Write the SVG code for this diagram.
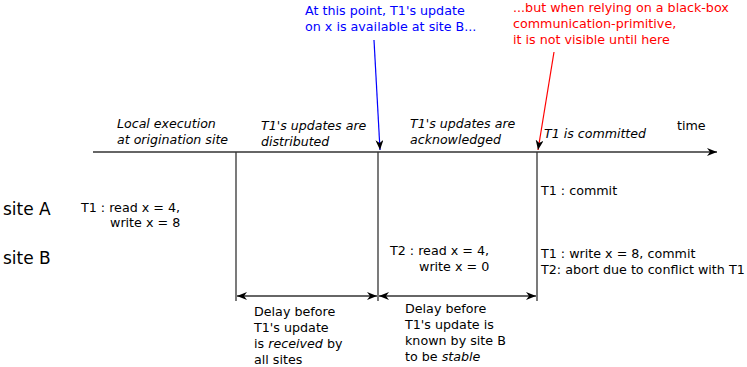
<svg xmlns="http://www.w3.org/2000/svg" width="747" height="367" viewBox="0 0 747 367">
<style>
text{font-family:"DejaVu Sans",sans-serif;font-size:12.7px;fill:#000}
.it{font-style:italic;font-size:12.6px}
.site{font-size:17px}
.blue{fill:#0000ff}
.red{fill:#ff0000}
.ln{stroke:#333;stroke-width:1.3;fill:none}
</style>
<defs>
<marker id="ah" viewBox="0 0 10 8" refX="10" refY="4" markerWidth="10" markerHeight="8" markerUnits="userSpaceOnUse" orient="auto-start-reverse"><path d="M0,0 L10,4 L0,8 L3,4 z" fill="#000"/></marker>
<marker id="ahb" viewBox="0 0 10 8" refX="10" refY="4" markerWidth="10" markerHeight="8" markerUnits="userSpaceOnUse" orient="auto"><path d="M0,0 L10,4 L0,8 L3,4 z" fill="#000"/></marker>
</defs>
<g id="connectors">
<line class="ln" x1="93" y1="152" x2="717" y2="152" marker-end="url(#ah)"/>
<line class="ln" x1="236" y1="152" x2="236" y2="301"/>
<line class="ln" x1="378" y1="152" x2="378" y2="301"/>
<line class="ln" x1="537" y1="152" x2="537" y2="301"/>
<line class="ln" x1="237" y1="296" x2="377" y2="296" marker-start="url(#ah)" marker-end="url(#ah)"/>
<line class="ln" x1="379" y1="296" x2="536" y2="296" marker-start="url(#ah)" marker-end="url(#ah)"/>
<line x1="374" y1="40" x2="380" y2="150" stroke="#0000ff" stroke-width="1.2" marker-end="url(#ahb)"/>
<line x1="554" y1="52" x2="538" y2="150" stroke="#ff0000" stroke-width="1.2" marker-end="url(#ahb)"/>
</g>
<g id="phase-labels">
<text class="it" x="117" y="128">Local execution</text>
<text class="it" x="117" y="144">at origination site</text>
<text class="it" x="261" y="130">T1's updates are</text>
<text class="it" x="261" y="146">distributed</text>
<text class="it" x="410" y="128">T1's updates are</text>
<text class="it" x="410" y="144">acknowledged</text>
<text class="it" x="544" y="138">T1 is committed</text>
<text x="677" y="130">time</text>
</g>
<g id="note-blue">
<text class="blue" x="305" y="15">At this point, T1's update</text>
<text class="blue" x="305" y="31">on x is available at site B...</text>
</g>
<g id="note-red">
<text class="red" x="513" y="12">...but when relying on a black-box</text>
<text class="red" x="513" y="28">communication-primitive,</text>
<text class="red" x="513" y="44">it is not visible until here</text>
</g>
<g id="siteA">
<text class="site" x="3" y="215">site A</text>
<text x="81" y="212">T1 : read x = 4,</text>
<text x="110" y="227">write x = 8</text>
<text x="541" y="195">T1 : commit</text>
</g>
<g id="siteB">
<text class="site" x="3" y="264">site B</text>
<text x="390" y="255">T2 : read x = 4,</text>
<text x="419" y="271">write x = 0</text>
<text x="541" y="258">T1 : write x = 8, commit</text>
<text x="541" y="274">T2: abort due to conflict with T1</text>
</g>
<g id="delay1">
<text x="254" y="316">Delay before</text>
<text x="254" y="332">T1's update</text>
<text x="254" y="348">is <tspan font-style="italic">received</tspan> by</text>
<text x="254" y="364">all sites</text>
</g>
<g id="delay2">
<text x="405" y="313">Delay before</text>
<text x="405" y="329">T1's update is</text>
<text x="405" y="345">known by site B</text>
<text x="405" y="361">to be <tspan font-style="italic">stable</tspan></text>
</g>
</svg>
